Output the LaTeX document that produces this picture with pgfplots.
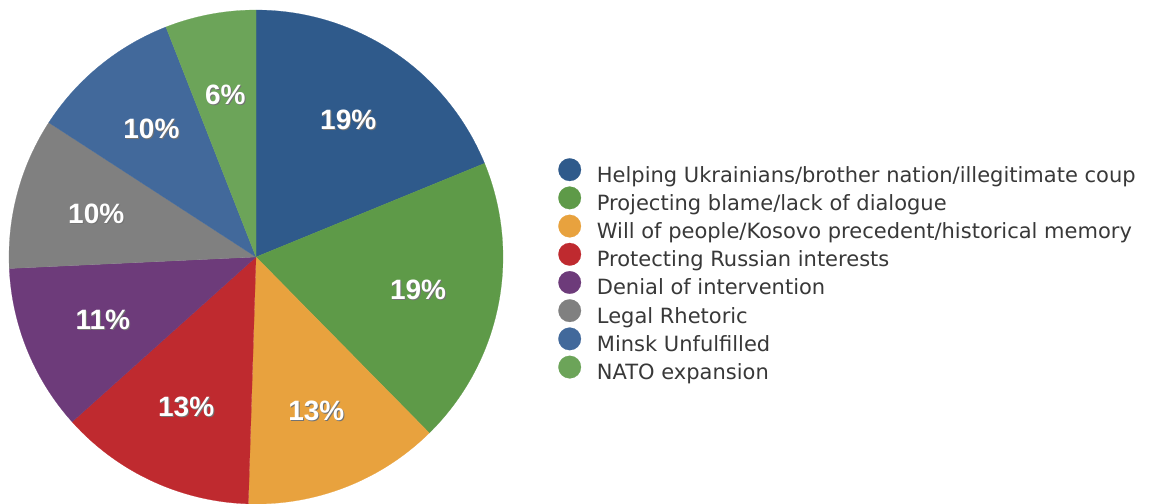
\documentclass[border=0pt]{standalone}
\usepackage{fontspec}
\setmainfont{DejaVu Sans}
\newfontfamily\labfont{Liberation Sans}
\usepackage{pgfplots}
\pgfplotsset{compat=1.18}

\definecolor{cA}{HTML}{2F5A8B}
\definecolor{cB}{HTML}{5E9A48}
\definecolor{cC}{HTML}{E8A23E}
\definecolor{cD}{HTML}{BF2A2F}
\definecolor{cE}{HTML}{6D3B7A}
\definecolor{cF}{HTML}{808080}
\definecolor{cG}{HTML}{42699B}
\definecolor{cH}{HTML}{6CA459}

% shares in percent (they add up to 101), clockwise from 12 o'clock
\def\pieunit{3.564356}
\pgfmathsetmacro\aA{90}
\pgfmathsetmacro\aB{\aA-19*\pieunit}
\pgfmathsetmacro\aC{\aB-19*\pieunit}
\pgfmathsetmacro\aD{\aC-13*\pieunit}
\pgfmathsetmacro\aE{\aD-13*\pieunit}
\pgfmathsetmacro\aF{\aE-11*\pieunit}
\pgfmathsetmacro\aG{\aF-10*\pieunit}
\pgfmathsetmacro\aH{\aG-10*\pieunit}
\pgfmathsetmacro\aI{\aH-6*\pieunit}

\newcommand\plab[3]{%
  \node[text=black!55,font=\labfont\bfseries\fontsize{28}{28}\selectfont]
    at (axis cs:{0.67*cos((#1+#2)/2)+0.004},{0.67*sin((#1+#2)/2)-0.004}) {#3};
  \node[text=white,font=\labfont\bfseries\fontsize{28}{28}\selectfont]
    at (axis cs:{0.67*cos((#1+#2)/2)},{0.67*sin((#1+#2)/2)}) {#3};}

\begin{document}
\begin{tikzpicture}
\begin{axis}[
  scale only axis, width=1151pt, height=504pt,
  xmin=-1.03644, xmax=3.62348, ymin=-1, ymax=1.04049,
  hide axis,
  legend cell align=left,
  legend style={at={(axis cs:1.2227,0.3907)}, anchor=north west,
    draw=none, fill=none, inner sep=0pt, row sep=1.7pt,
    font=\fontsize{21}{21}\selectfont, text=black!78,
    nodes={inner sep=0pt, text height=16pt, text depth=5pt},
    /tikz/every odd column/.append style={column sep=15.7pt}},
  legend image code/.code={%
    \path[use as bounding box, fill=none, draw=none] (0pt,0pt) rectangle (23pt,16pt);
    \fill[#1] (11.5pt,7pt) circle [radius=11.3pt];},
]
\addplot[fill=cA, draw=cA, line width=0.2pt, domain=\aB:\aA, samples=60, variable=\t] ({cos(\t)},{sin(\t)}) -- (axis cs:0,0) -- cycle;
\addlegendentry{Helping Ukrainians/brother nation/illegitimate coup}
\addplot[fill=cB, draw=cB, line width=0.2pt, domain=\aC:\aB, samples=60, variable=\t] ({cos(\t)},{sin(\t)}) -- (axis cs:0,0) -- cycle;
\addlegendentry{Projecting blame/lack of dialogue}
\addplot[fill=cC, draw=cC, line width=0.2pt, domain=\aD:\aC, samples=40, variable=\t] ({cos(\t)},{sin(\t)}) -- (axis cs:0,0) -- cycle;
\addlegendentry{Will of people/Kosovo precedent/historical memory}
\addplot[fill=cD, draw=cD, line width=0.2pt, domain=\aE:\aD, samples=40, variable=\t] ({cos(\t)},{sin(\t)}) -- (axis cs:0,0) -- cycle;
\addlegendentry{Protecting Russian interests}
\addplot[fill=cE, draw=cE, line width=0.2pt, domain=\aF:\aE, samples=40, variable=\t] ({cos(\t)},{sin(\t)}) -- (axis cs:0,0) -- cycle;
\addlegendentry{Denial of intervention}
\addplot[fill=cF, draw=cF, line width=0.2pt, domain=\aG:\aF, samples=40, variable=\t] ({cos(\t)},{sin(\t)}) -- (axis cs:0,0) -- cycle;
\addlegendentry{Legal Rhetoric}
\addplot[fill=cG, draw=cG, line width=0.2pt, domain=\aH:\aG, samples=40, variable=\t] ({cos(\t)},{sin(\t)}) -- (axis cs:0,0) -- cycle;
\addlegendentry{Minsk Unfulfilled}
\addplot[fill=cH, draw=cH, line width=0.2pt, domain=\aI:\aH, samples=30, variable=\t] ({cos(\t)},{sin(\t)}) -- (axis cs:0,0) -- cycle;
\addlegendentry{NATO expansion}
\plab{\aA}{\aB}{19\%}
\plab{\aB}{\aC}{19\%}
\plab{\aC}{\aD}{13\%}
\plab{\aD}{\aE}{13\%}
\plab{\aE}{\aF}{11\%}
\plab{\aF}{\aG}{10\%}
\plab{\aG}{\aH}{10\%}
\plab{\aH}{\aI}{6\%}
\end{axis}
\path (current axis.south west) rectangle (current axis.north east);
\end{tikzpicture}
\end{document}
